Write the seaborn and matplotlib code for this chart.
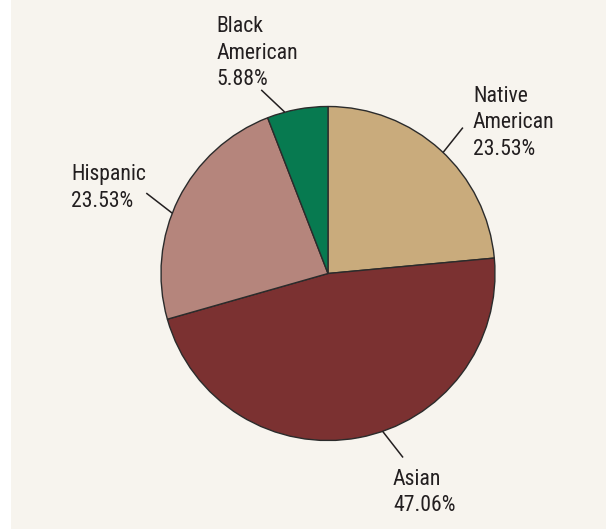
import numpy as np
import matplotlib
matplotlib.use("Agg")
import matplotlib.pyplot as plt
import seaborn as sns
from matplotlib.patches import Rectangle

# data: counts per group (percentages shown on the labels)
groups = ["Native\nAmerican", "Asian", "Hispanic", "Black\nAmerican"]
counts = [4, 8, 4, 1]
colors = ["#c9ab7c", "#7b3131", "#b5857c", "#077a50"]

sns.set_style("white")
plt.rcParams["font.family"] = ["Roboto Condensed", "Archivo Narrow", "DejaVu Sans"]

bg = "#f7f4ee"
text_color = "#231f20"

fig = plt.figure(figsize=(6.06, 5.29), dpi=100)
fig.patch.set_facecolor("white")
ax = fig.add_axes([0, 0, 1, 1])

cx, cy, r = 328, 255.5, 167
wedges, _ = ax.pie(counts, colors=colors, startangle=90, counterclock=False,
                   center=(cx, cy), radius=r,
                   wedgeprops=dict(edgecolor="#2b2b2b", linewidth=1.0))

ax.add_patch(Rectangle((11, 0), 595, 529, facecolor=bg, edgecolor="none", zorder=-5))
ax.set_xlim(0, 606)
ax.set_ylim(0, 529)
ax.set_aspect("equal")
ax.axis("off")

# label layout: inner/outer angle tweak, outer radius, text offset (px, y down)
layout = [
    (-1.2, -0.4, 1.19, 10, -26),
    (8.5, 11.6, 1.19, -10, 27),
    (5.3, 2.6, 1.19, -75, -13),
    (4.4, 9.4, 1.17, -45, -58),
]
line_gap = 26.7

total = sum(counts)
for w, name, n, (a_in, a_out, r_out, dx, dy) in zip(wedges, groups, counts, layout):
    mid = (w.theta1 + w.theta2) / 2
    t0, t1 = np.deg2rad(mid + a_in), np.deg2rad(mid + a_out)
    x0, y0 = cx + r * np.cos(t0), cy + r * np.sin(t0)
    x1, y1 = cx + r_out * r * np.cos(t1), cy + r_out * r * np.sin(t1)
    ax.plot([x0, x1], [y0, y1], color=text_color, lw=1.1, solid_capstyle="butt")
    lines = name.split("\n") + [f"{n / total * 100:.2f}%"]
    for i, s in enumerate(lines):
        ax.text(x1 + dx, y1 - dy - i * line_gap, s, ha="left", va="baseline",
                fontsize=15.7, color=text_color)

fig.savefig("out.png", dpi=100, facecolor=fig.get_facecolor())
